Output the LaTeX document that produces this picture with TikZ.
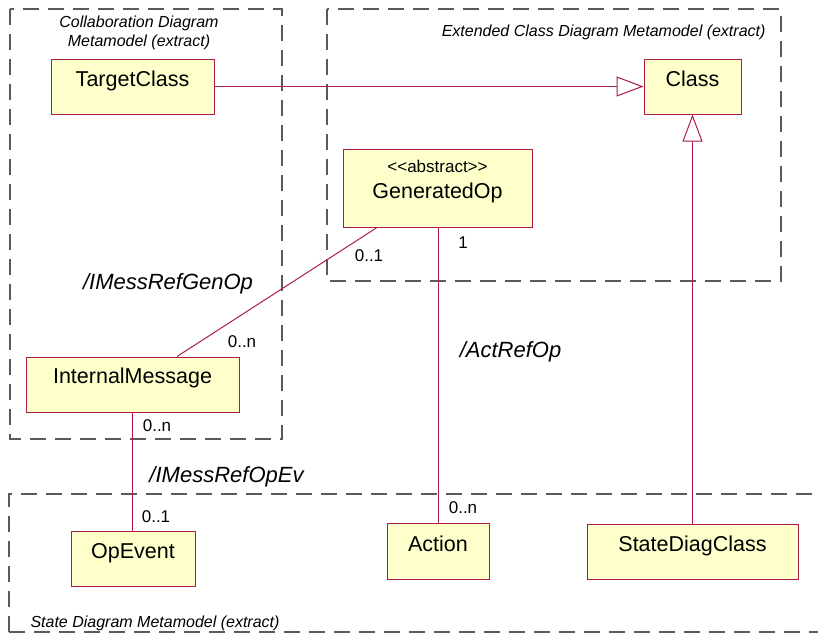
\documentclass[tikz,border=0pt]{standalone}
\usepackage{fontspec}
\setmainfont{Liberation Sans}
\usetikzlibrary{arrows.meta}
\definecolor{umlred}{RGB}{170,30,70}
\definecolor{umlfill}{RGB}{255,255,204}
\definecolor{pkggray}{RGB}{90,90,90}
\tikzset{
  cls/.style={draw=umlred, fill=umlfill, line width=1pt, inner sep=0pt, anchor=base,
    font=\fontsize{21.5}{24}\selectfont},
  pkgbox/.style={draw=pkggray, line width=1.3pt, dash pattern=on 16pt off 9pt},
  assoc/.style={draw=umlred, line width=1pt},
  gen/.style={draw=umlred, line width=1pt, -{Triangle[open, length=27pt, width=20pt, fill=white]}},
  mult/.style={anchor=base, font=\fontsize{17}{20}\selectfont},
  role/.style={anchor=base, font=\fontsize{22}{26}\itshape},
  pkglabel/.style={anchor=base, font=\fontsize{16}{19}\itshape}
}
\begin{document}
\begin{tikzpicture}[x=1pt, y=-1pt]
\useasboundingbox (0,0) rectangle (818,637);
% packages
\draw[pkgbox] (10,9) rectangle (282,439);
\draw[pkgbox] (327,9) rectangle (781,281);
\draw[pkgbox] (9,632) -- (9,494) -- (840,494);
\draw[pkgbox] (9,632) -- (840,632);
\node[pkglabel] (collabA) at (139,27) {Collaboration Diagram};
\node[pkglabel] (collabB) at (139,46) {Metamodel (extract)};
\node[pkglabel, anchor=base east] (extlab) at (769,36) {Extended Class Diagram Metamodel (extract)};
\node[pkglabel, anchor=base west] (statelab) at (27,627) {State Diagram Metamodel (extract)};
% classes
\node[cls, minimum width=163pt, text height=27pt, text depth=28pt] (TargetClass) at (132.5,86) {TargetClass};
\node[cls, minimum width=97pt, text height=27pt, text depth=28pt] (Class) at (692.5,86) {Class};
\node[cls, minimum width=189pt, text height=49pt, text depth=29pt] (GeneratedOp) at (437.5,198) {GeneratedOp};
\node[anchor=base, inner sep=0pt, font=\fontsize{17}{20}\selectfont] (stereo) at (437.5,172) {<\kern0pt<abstract>\kern0pt>};
\node[cls, minimum width=213pt, text height=26pt, text depth=29pt] (InternalMessage) at (132.5,383) {InternalMessage};
\node[cls, minimum width=124pt, text height=27pt, text depth=28pt] (OpEvent) at (133,558) {OpEvent};
\node[cls, minimum width=102pt, text height=28pt, text depth=28pt] (Action) at (438,551) {Action};
\node[cls, minimum width=211pt, text height=27pt, text depth=28pt] (StateDiagClass) at (692.5,551) {StateDiagClass};
% connectors
\draw[gen] (TargetClass.east) -- (Class.west);
\draw[gen] (StateDiagClass.north) -- (Class.south);
\draw[assoc] ([xshift=-60.5pt]GeneratedOp.south) -- ([xshift=44.5pt]InternalMessage.north);
\draw[assoc] (GeneratedOp.south -| Action.north) -- (Action.north);
\draw[assoc] (InternalMessage.south) -- (InternalMessage.south |- OpEvent.north);
% labels
\node[role] (rGenOp) at (168,289) {/IMessRefGenOp};
\node[role] (rAct) at (510.5,357) {/ActRefOp};
\node[role] (rOpEv) at (226.5,482) {/IMessRefOpEv};
\node[mult] (m1) at (369,261) {0..1};
\node[mult] (m2) at (463,248) {1};
\node[mult] (m3) at (242,347) {0..n};
\node[mult] (m4) at (157,431) {0..n};
\node[mult] (m5) at (156,522) {0..1};
\node[mult] (m6) at (463,513) {0..n};
\end{tikzpicture}
\end{document}
